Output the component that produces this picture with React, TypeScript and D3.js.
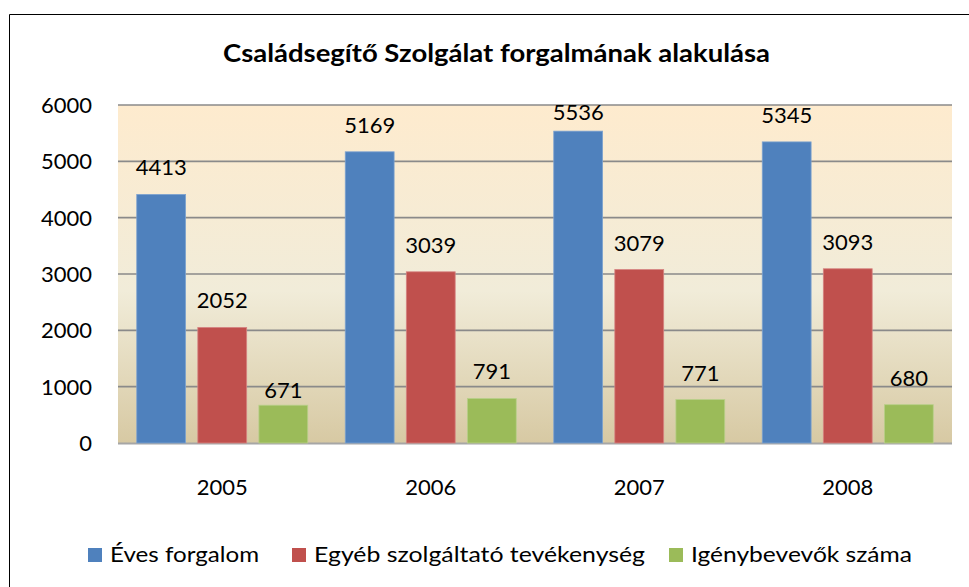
import React, { useEffect, useRef } from "react";
import * as d3 from "d3";

const years = ["2005", "2006", "2007", "2008"];
const seriesNames = ["Éves forgalom", "Egyéb szolgáltató tevékenység", "Igénybevevők száma"];
const evesForgalom = [4413, 5169, 5536, 5345];
const egyebTevekenyseg = [2052, 3039, 3079, 3093];
const igenybevevok = [671, 791, 771, 680];
const yTicks = [0, 1000, 2000, 3000, 4000, 5000, 6000];
const title = "Családsegítő Szolgálat forgalmának alakulása";

const colors = ["#4F81BD", "#C0504D", "#9BBB59"];
const strokes = ["#7EA3D0", "#D68482", "#B9D08A"];

export default function App() {
  const ref = useRef<SVGSVGElement | null>(null);

  useEffect(() => {
    const svg = d3.select(ref.current);
    svg.selectAll("*").remove();
    const W = 969, H = 587;
    const left = 118, right = 952, top = 105, bottom = 443;
    const font = "Lato, 'Open Sans', sans-serif";
    const values = [evesForgalom, egyebTevekenyseg, igenybevevok];

    // outer frame
    svg.append("path").attr("d", `M9.5,${H} V14.5 H${W}`).attr("fill", "none").attr("stroke", "#000").attr("stroke-width", 1);

    const defs = svg.append("defs");
    const grad = defs.append("linearGradient").attr("id", "bg").attr("x1", 0).attr("y1", 0).attr("x2", 0).attr("y2", 1);
    grad.append("stop").attr("offset", "0%").attr("stop-color", "#FEEBCE");
    grad.append("stop").attr("offset", "55%").attr("stop-color", "#F1ECD9");
    grad.append("stop").attr("offset", "100%").attr("stop-color", "#D7C9A3");

    const x = d3.scaleBand<string>().domain(years).range([left, right]).padding(0);
    const xs = d3.scaleBand<number>().domain([0, 1, 2]).range([18.75, x.bandwidth() - 18.75]).paddingInner(0.2);
    const y = d3.scaleLinear().domain([0, 6000]).range([bottom, top]);

    svg.append("rect").attr("x", left).attr("y", top).attr("width", right - left).attr("height", bottom - top).attr("fill", "url(#bg)");

    // gridlines
    svg.append("g").selectAll("line").data(yTicks.filter((t) => t > 0)).join("line")
      .attr("x1", left).attr("x2", right)
      .attr("y1", (d) => y(d)).attr("y2", (d) => y(d))
      .attr("stroke", "#8A8A8A").attr("stroke-width", 1.6);
    svg.append("line").attr("x1", left).attr("x2", right).attr("y1", bottom + 0.5).attr("y2", bottom + 0.5)
      .attr("stroke", "#A6A6A6").attr("stroke-width", 2);

    // y tick labels
    svg.append("g").selectAll("text").data(yTicks).join("text")
      .attr("x", 92).attr("y", (d) => y(d)).attr("dy", "0.36em")
      .attr("text-anchor", "end").attr("font-family", font).attr("font-size", 22).attr("fill", "#000")
      .text((d) => String(d));

    // bars
    values.forEach((vals, si) => {
      const g = svg.append("g");
      g.selectAll("rect").data(vals).join("rect")
        .attr("x", (_, i) => (x(years[i]) as number) + (xs(si) as number))
        .attr("y", (d) => y(d))
        .attr("width", xs.bandwidth())
        .attr("height", (d) => bottom - y(d))
        .attr("fill", colors[si])
        .attr("stroke", strokes[si]).attr("stroke-width", 0.8);
      g.selectAll("text").data(vals).join("text")
        .attr("x", (_, i) => (x(years[i]) as number) + (xs(si) as number) + xs.bandwidth() / 2)
        .attr("y", (d) => {
          let b = y(d) - 19;
          if (d === 671) b = y(d) - 7;
          return Math.max(b, top + 15);
        })
        .attr("text-anchor", "middle").attr("font-family", font).attr("font-size", 22).attr("fill", "#000")
        .text((d) => String(d));
    });

    // x labels
    svg.append("g").selectAll("text").data(years).join("text")
      .attr("x", (d) => (x(d) as number) + x.bandwidth() / 2).attr("y", 495)
      .attr("text-anchor", "middle").attr("font-family", font).attr("font-size", 22).attr("fill", "#000")
      .text((d) => d);

    // title
    svg.append("text").attr("x", 223).attr("y", 62)
      .attr("textLength", 547).attr("lengthAdjust", "spacingAndGlyphs")
      .attr("font-family", font).attr("font-weight", "bold").attr("font-size", 24).attr("fill", "#000")
      .text(title);

    // legend
    const legendX = [88, 292, 669];
    const legendLen = [149, 331, 221];
    const lg = svg.append("g");
    seriesNames.forEach((name, i) => {
      lg.append("rect").attr("x", legendX[i]).attr("y", 548).attr("width", 14).attr("height", 14).attr("fill", colors[i]);
      lg.append("text").attr("x", legendX[i] + 22).attr("y", 562)
        .attr("textLength", legendLen[i]).attr("lengthAdjust", "spacingAndGlyphs")
        .attr("font-family", font).attr("font-size", 22).attr("fill", "#000").text(name);
    });
  }, []);

  return (
    <svg ref={ref} width={969} height={587} style={{ position: "absolute", left: 0, top: 0 }} />
  );
}
